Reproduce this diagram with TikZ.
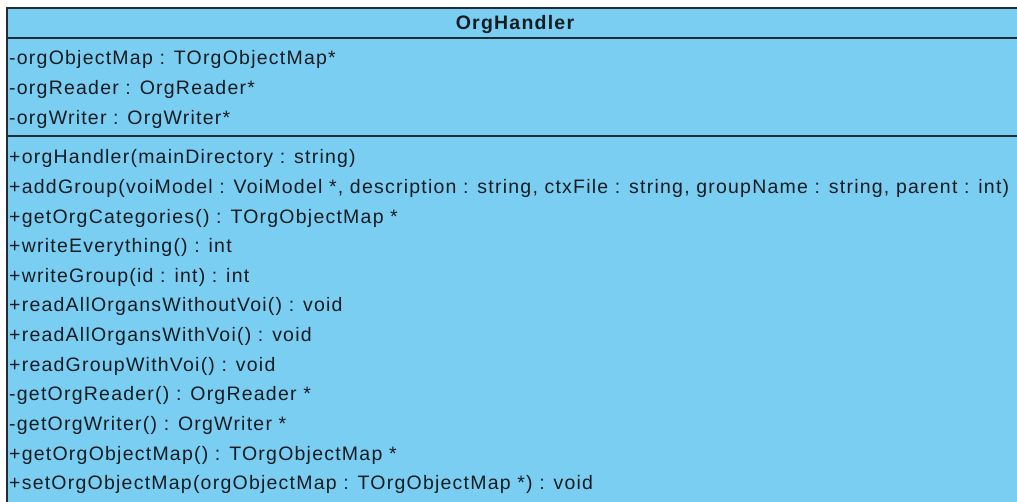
\documentclass[tikz,border=0pt]{standalone}
\usepackage{fontspec}
\setmainfont{Liberation Sans}[LetterSpace=6.3]
\definecolor{classfill}{RGB}{122,206,242}
\definecolor{ruledark}{RGB}{32,45,55}
\definecolor{textdark}{RGB}{22,28,34}
\newcommand{\umlfont}{\fontsize{19.5}{24}\selectfont}
\begin{document}
\begin{tikzpicture}[x=1pt,y=-1pt,
  member/.style={anchor=base west, inner sep=0pt, font=\umlfont, text=textdark},
  classname/.style={anchor=base, inner sep=0pt, font=\umlfont\bfseries, text=textdark},
  rule/.style={draw=ruledark, line width=2.2pt}]
\useasboundingbox (0,0) rectangle (1017,502);
% class box, running past the right and bottom edges
\begin{scope}
  \clip (0,0) rectangle (1017,502);
  \fill[classfill] (7,8) rectangle (1040,520);
  \draw[rule] (7,520) -- (7,8) -- (1040,8);
  \draw[rule] (7,38) -- (1040,38);
  \draw[rule] (7,136) -- (1040,136);
\end{scope}
% name compartment
\node[classname] (name) at (515,30) {OrgHandler};
% attributes
\node[member] (a1) at (9,65)    {-orgObjectMap : TOrgObjectMap*};
\node[member] (a2) at (9,94.6)  {-orgReader : OrgReader*};
\node[member] (a3) at (9,124.2) {-orgWriter : OrgWriter*};
% operations
\node[member] (m1)  at (9,164.0) {+orgHandler(mainDirectory : string)};
\node[member] (m2)  at (9,193.6) {+addGroup(voiModel : VoiModel *, description : string, ctxFile : string, groupName : string, parent : int)};
\node[member] (m3)  at (9,223.2) {+getOrgCategories() : TOrgObjectMap *};
\node[member] (m4)  at (9,252.8) {+writeEverything() : int};
\node[member] (m5)  at (9,282.4) {+writeGroup(id : int) : int};
\node[member] (m6)  at (9,312.0) {+readAllOrgansWithoutVoi() : void};
\node[member] (m7)  at (9,341.6) {+readAllOrgansWithVoi() : void};
\node[member] (m8)  at (9,371.2) {+readGroupWithVoi() : void};
\node[member] (m9)  at (9,400.8) {-getOrgReader() : OrgReader *};
\node[member] (m10) at (9,430.4) {-getOrgWriter() : OrgWriter *};
\node[member] (m11) at (9,460.0) {+getOrgObjectMap() : TOrgObjectMap *};
\node[member] (m12) at (9,489.6) {+setOrgObjectMap(orgObjectMap : TOrgObjectMap *) : void};
\end{tikzpicture}
\end{document}
